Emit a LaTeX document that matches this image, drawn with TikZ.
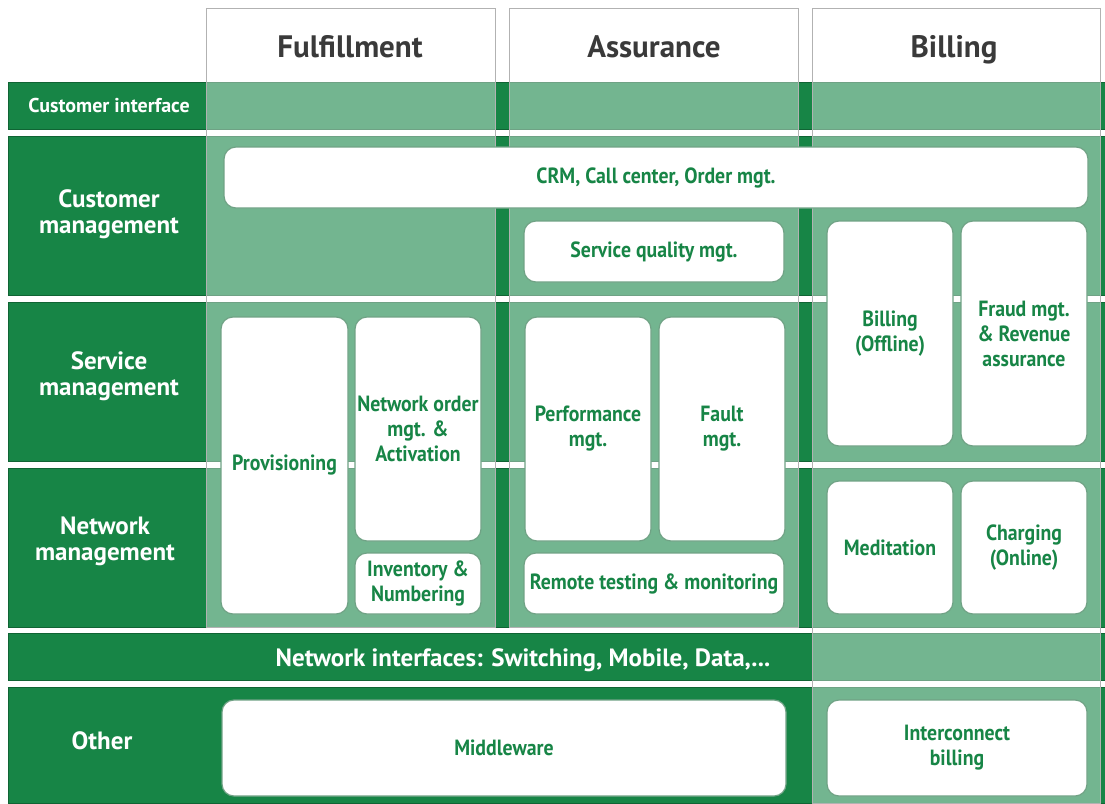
\documentclass[tikz,border=0pt]{standalone}
\usepackage{fontspec}
\setmainfont{PT Sans}
\newfontfamily\boxfont{PT Sans}[FakeStretch=0.9]
\definecolor{osgreen}{RGB}{23,133,70}
\definecolor{osline}{RGB}{16,100,52}
\definecolor{oshead}{RGB}{58,58,58}

\tikzset{
  band/.style={fill=osgreen,draw=osline,line width=0.8pt},
  column/.style={fill=white,fill opacity=0.4,draw=black!30,line width=0.8pt},
  rowlabel/.style={text=white,align=center,inner sep=0pt,font=\fontsize{25}{26}\selectfont\bfseries},
  colhead/.style={text=oshead,anchor=base,inner sep=0pt,font=\fontsize{31}{33}\selectfont\bfseries},
  appbox/.style={fill=white,draw=osline!60,line width=1.2pt,rounded corners=12pt,text=osgreen,align=center,inner sep=0pt,font=\boxfont\fontsize{22}{25}\selectfont\bfseries}
}

\begin{document}
\begin{tikzpicture}[x=1pt,y=-1pt]
\useasboundingbox (0,0) rectangle (1105,803);
\fill[white] (0,0) rectangle (1105,803);
\draw[band] (8,82) rectangle (1105,129);
\draw[band] (8,136) rectangle (1105,295);
\draw[band] (8,302) rectangle (1105,461);
\draw[band] (8,468) rectangle (1105,627);
\draw[band] (8,633) rectangle (1105,680);
\draw[band] (8,687) rectangle (1105,803);
\draw[column] (206,8) rectangle (495,627);
\draw[column] (509,8) rectangle (798,627);
\draw[column] (812,8) rectangle (1100,803);
\node[colhead] (fulf) at (350,57) {Fulfillment};
\node[colhead] (assur) at (654,57) {Assurance};
\node[colhead] (bill) at (954,57) {Billing};
\node[rowlabel,font=\fontsize{20}{22}\selectfont\bfseries] (custif) at (109,105) {Customer interface};
\node[rowlabel] (custmgt) at (109,214) {Customer\\management};
\node[rowlabel] (servmgt) at (109,376) {Service\\management};
\node[rowlabel] (netmgt) at (105,541) {Network\\management};
\node[rowlabel] (netif) at (523,660) {Network interfaces: Switching, Mobile, Data,...};
\node[rowlabel] (other) at (102,741) {Other};
\node[appbox,minimum width=864pt,minimum height=61pt] (crm) at (656,177.5) {CRM, Call center, Order mgt.};
\node[appbox,minimum width=260pt,minimum height=61pt] (sqm) at (654,251.5) {Service quality mgt.};
\node[appbox,minimum width=127pt,minimum height=297pt] (prov) at (284.5,465.5) {Provisioning};
\node[appbox,minimum width=126pt,minimum height=224pt] (nord) at (418,429) {Network order\\mgt. \&\\Activation};
\node[appbox,minimum width=126pt,minimum height=61pt] (inv) at (418,583.5) {Inventory \&\\Numbering};
\node[appbox,minimum width=126pt,minimum height=224pt] (perf) at (588,429) {Performance\\mgt.};
\node[appbox,minimum width=126pt,minimum height=224pt] (fault) at (722,429) {Fault\\mgt.};
\node[appbox,minimum width=260pt,minimum height=61pt] (remote) at (654,583.5) {Remote testing \& monitoring};
\node[appbox,minimum width=126pt,minimum height=225pt] (boff) at (890,333.5) {Billing\\(Offline)};
\node[appbox,minimum width=126pt,minimum height=225pt] (fraud) at (1024,333.5) {Fraud mgt.\\\& Revenue\\assurance};
\node[appbox,minimum width=126pt,minimum height=133pt] (medi) at (890,547.5) {Meditation};
\node[appbox,minimum width=126pt,minimum height=133pt] (charg) at (1024,547.5) {Charging\\(Online)};
\node[appbox,minimum width=564pt,minimum height=96pt] (middle) at (504,748) {Middleware};
\node[appbox,minimum width=260pt,minimum height=96pt] (icb) at (957,748) {Interconnect\\billing};
\end{tikzpicture}
\end{document}
